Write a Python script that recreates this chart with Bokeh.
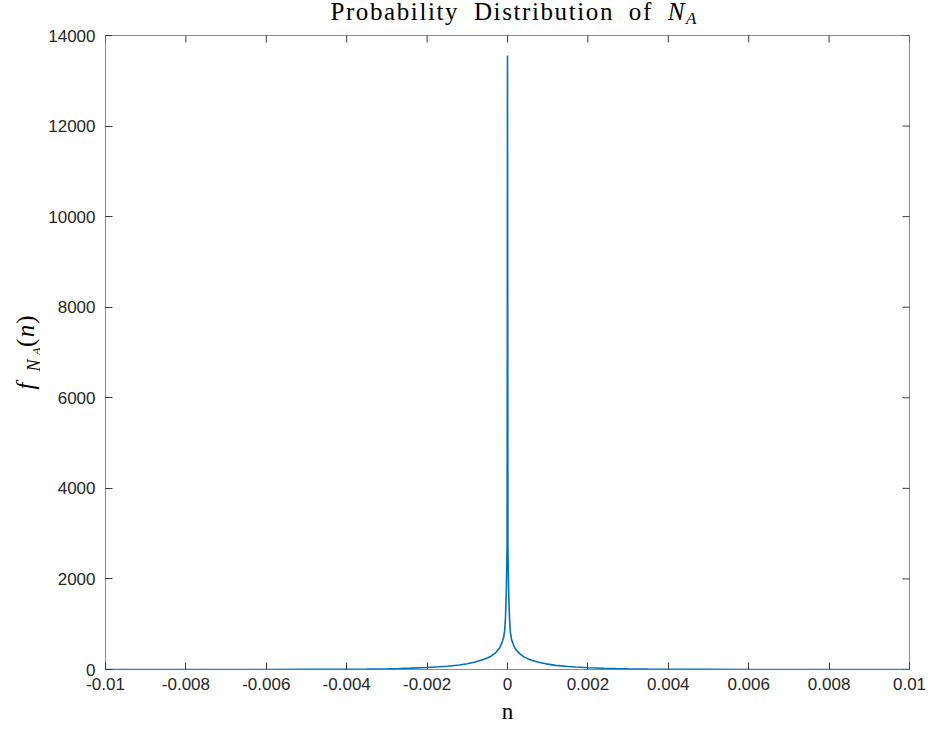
import math

from bokeh.embed import file_html
from bokeh.layouts import column, row
from bokeh.models import Div, FixedTicker, Label, LinearAxis, Range1d
from bokeh.plotting import figure
from bokeh.resources import INLINE

# Estimated density of N_A, sampled more densely near the central spike
n_values = [
    -0.0100, -0.0070, -0.0060, -0.0050, -0.0045, -0.0040, -0.0035, -0.0030,
    -0.0027, -0.0024, -0.0020, -0.0017, -0.0015, -0.0012, -0.0010, -0.0008,
    -0.0006, -0.0005, -0.0004, -0.0003, -0.0002, -0.00015, -0.0001, -0.00007,
    -0.00005, -0.00003, -0.00002, -0.00001, 0.0,
    0.00001, 0.00002, 0.00003, 0.00005, 0.00007, 0.0001, 0.00015, 0.0002,
    0.0003, 0.0004, 0.0005, 0.0006, 0.0008, 0.0010, 0.0012, 0.0015,
    0.0017, 0.0020, 0.0024, 0.0027, 0.0030, 0.0035, 0.0040, 0.0045,
    0.0050, 0.0060, 0.0070, 0.0100,
]
density = [
    0, 0, 1, 3, 4, 6, 9, 16,
    22, 30, 45, 60, 72, 100, 128, 165,
    220, 255, 300, 365, 470, 570, 690, 860,
    1160, 1720, 2220, 2750, 13560,
    2720, 2180, 1680, 1130, 830, 660, 540, 450,
    350, 285, 240, 205, 155, 118, 92, 66,
    54, 40, 27, 20, 14, 8, 5, 3,
    2, 1, 0, 0,
]

x_ticks = [-0.01, -0.008, -0.006, -0.004, -0.002, 0.0, 0.002, 0.004, 0.006, 0.008, 0.01]
x_tick_labels = ["-0.01", "-0.008", "-0.006", "-0.004", "-0.002", "0",
                 "0.002", "0.004", "0.006", "0.008", "0.01"]
y_ticks = [0, 2000, 4000, 6000, 8000, 10000, 12000, 14000]
y_tick_labels = ["0", "2000", "4000", "6000", "8000", "10000", "12000", "14000"]

LINE_BLUE = "#0072BD"
TEXT_DARK = "#262626"
FRAME_GREY = "#8a8a8a"
TICK_GREY = "#3a3a3a"
SANS = "Liberation Sans"
SERIF = "Liberation Serif"

# Page geometry: title strip on top, y-label strip on the left, plot below/right
PAGE_W, PAGE_H = 928, 729
TITLE_H = 25
YLAB_W = 40
PLOT_W, PLOT_H = PAGE_W - YLAB_W, PAGE_H - TITLE_H

p = figure(
    width=PLOT_W, height=PLOT_H,
    x_range=Range1d(x_ticks[0], x_ticks[-1]), y_range=Range1d(y_ticks[0], y_ticks[-1]),
    output_backend="svg", toolbar_location=None,
    x_axis_location=None, y_axis_location=None,
    min_border_left=65, min_border_right=19, min_border_top=10, min_border_bottom=60,
)
p.background_fill_color = "white"
p.border_fill_color = "white"
p.outline_line_color = FRAME_GREY
p.outline_line_width = 1
p.xgrid.visible = False
p.ygrid.visible = False


def labelled_axis(ticks, labels, standoff):
    ax = LinearAxis(ticker=FixedTicker(ticks=ticks))
    ax.major_label_overrides = dict(zip(ticks, labels))
    ax.axis_line_color = None
    ax.major_tick_in = 7
    ax.major_tick_out = 0
    ax.major_tick_line_color = TICK_GREY
    ax.major_tick_line_width = 1
    ax.minor_tick_line_color = None
    ax.major_label_text_font = SANS
    ax.major_label_text_font_size = "17px"
    ax.major_label_text_color = TEXT_DARK
    ax.major_label_standoff = standoff
    return ax


x_axis = labelled_axis(x_ticks, x_tick_labels, 8)
x_axis.axis_label = "n"
x_axis.axis_label_text_font = SERIF
x_axis.axis_label_text_font_size = "23px"
x_axis.axis_label_text_font_style = "normal"
x_axis.axis_label_text_color = "black"
x_axis.axis_label_standoff = 6
p.add_layout(x_axis, "below")
p.add_layout(labelled_axis(y_ticks, y_tick_labels, 10), "left")

# Mirrored inward ticks on the top and right edges of the box (half of each
# dash is clipped away by the frame, leaving a 7px inward tick)
p.scatter(x=x_ticks, y=[y_ticks[-1]] * len(x_ticks), marker="dash", angle=math.pi / 2,
          size=14, line_color=TICK_GREY, line_width=1)
p.scatter(x=[x_ticks[-1]] * len(y_ticks), y=y_ticks, marker="dash",
          size=14, line_color=TICK_GREY, line_width=1)

p.line(n_values, density, line_color=LINE_BLUE, line_width=1.6)

# Title: "Probability Distribution of N_A"
title_html = (
    f'<div style="position:relative;width:{PAGE_W}px;height:{TITLE_H}px;">'
    f'<div style="position:absolute;right:230px;top:0px;white-space:nowrap;'
    f"font-family:'{SERIF}',serif;font-size:25px;line-height:23px;"
    'letter-spacing:1.6px;word-spacing:7px;color:black;">'
    'Probability Distribution of <i>N</i>'
    '<span style="font-size:17px;position:relative;top:4px;"><i>A</i></span>'
    '</div></div>'
)
title_div = Div(text=title_html, width=PAGE_W, height=TITLE_H, margin=0)


def text_strip(width, height):
    """A bare figure whose frame fills it, with pixel coordinates from its top-left."""
    s = figure(
        width=width, height=height,
        x_range=Range1d(0, width), y_range=Range1d(height, 0),
        output_backend="svg", toolbar_location=None,
        x_axis_location=None, y_axis_location=None,
        min_border_left=0, min_border_right=0, min_border_top=0, min_border_bottom=0,
    )
    s.outline_line_color = None
    s.background_fill_color = "white"
    s.border_fill_color = "white"
    s.xgrid.visible = False
    s.ygrid.visible = False
    return s


def put(strip, text, x, y, size, italic=False, angle=0.0):
    strip.add_layout(Label(
        x=x, y=y, text=text, text_font=SERIF, text_font_size=size,
        text_font_style="italic" if italic else "normal",
        text_color="black", text_align="left", text_baseline="alphabetic",
        angle=angle,
    ))


# y-axis label: f_{N_A}(n), reading upwards; LIFT moves the whole label down
UP = math.pi / 2
LIFT = 22
ylab_strip = text_strip(YLAB_W, PLOT_H)
put(ylab_strip, "f", 25, 396 - TITLE_H + LIFT, "25px", italic=True, angle=UP)
put(ylab_strip, "N", 33, 376 - TITLE_H + LIFT, "18px", italic=True, angle=UP)
put(ylab_strip, "A", 36, 358 - TITLE_H + LIFT, "13px", italic=True, angle=UP)
put(ylab_strip, "(", 25, 349 - TITLE_H + LIFT, "25px", angle=UP)
put(ylab_strip, "n", 25, 338 - TITLE_H + LIFT, "25px", italic=True, angle=UP)
put(ylab_strip, ")", 25, 323 - TITLE_H + LIFT, "25px", angle=UP)

page = column(title_div, row(ylab_strip, p, spacing=0), spacing=0)

open("out.html", "w").write(file_html(page, INLINE))
